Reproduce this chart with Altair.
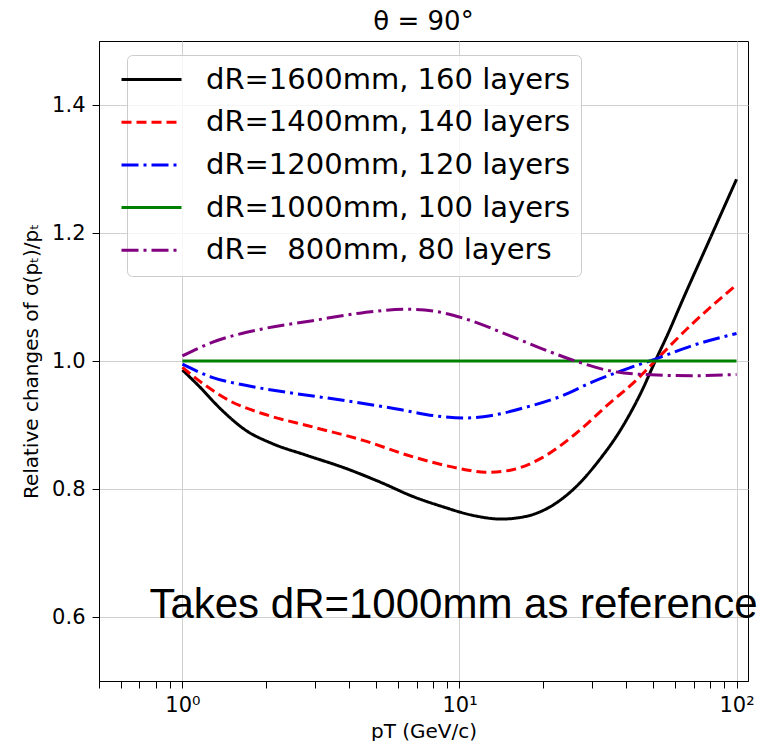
import altair as alt
import pandas as pd

# ---- data ----
labels = [
    "dR=1600mm, 160 layers",
    "dR=1400mm, 140 layers",
    "dR=1200mm, 120 layers",
    "dR=1000mm, 100 layers",
    "dR=\u00a0\u00a0800mm, 80 layers",
]

pt_1600 = [1, 1.14, 1.39, 1.69, 2.11, 2.79, 3.9, 5.16, 6.82, 8.6, 11.4, 14.1, 17.3, 21,
           26.2, 31.8, 38.6, 45.6, 50.9, 56.9, 63.1, 80, 100]
val_1600 = [0.986, 0.962, 0.923, 0.892, 0.871, 0.853, 0.832, 0.811, 0.788, 0.773, 0.758,
            0.753, 0.757, 0.771, 0.8025, 0.844, 0.896, 0.954, 1.0, 1.045, 1.090, 1.190, 1.284]

pt_1400 = [1, 1.21, 1.51, 1.94, 2.95, 4.49, 6.82, 10.3, 12.4, 15.1, 19.9, 26.2, 34.6,
           43.2, 49.5, 69.2, 100]
val_1400 = [0.990, 0.962, 0.936, 0.918, 0.897, 0.876, 0.850, 0.831, 0.826, 0.829, 0.849,
            0.886, 0.933, 0.969, 0.995, 1.058, 1.119]

pt_1200 = [1, 1.28, 1.69, 2.57, 3.9, 5.94, 8.66, 10.5, 13.1, 17.3, 23.6, 30.1, 39.7,
           50.9, 69.2, 100]
val_1200 = [0.995, 0.9745, 0.962, 0.949, 0.938, 0.925, 0.913, 0.911, 0.915, 0.9275,
            0.946, 0.967, 0.987, 1.003, 1.024, 1.043]

pt_1000 = [1, 100]
val_1000 = [1.0, 1.0]

pt_800 = [1, 1.28, 1.94, 2.95, 4.49, 6.45, 8.07, 10.3, 15.1, 19.9, 26.2, 34.6, 45.6,
          69.2, 100]
val_800 = [1.008, 1.029, 1.050, 1.063, 1.0755, 1.081, 1.078, 1.067, 1.040, 1.019, 1.000,
           0.985, 0.979, 0.977, 0.979]

colors = ["#000000", "#ff0000", "#0000ff", "#008000", "#800080"]
dashes = [[1, 0], [10, 5], [17, 5, 3, 5], [1, 0], [17, 5, 3, 5]]

x_ticks = [0.5, 0.6, 0.7, 0.8, 0.9, 1, 2, 3, 4, 5, 6, 7, 8, 9,
           10, 20, 30, 40, 50, 60, 70, 80, 90, 100]
y_ticks = [0.6, 0.8, 1.0, 1.2, 1.4]

note_text = ["Takes dR=1000mm as reference"]
note_x = [0.76]
note_y = [0.598]

# ---- build table ----
rows = []
for lab, xs, ys in zip(labels,
                       [pt_1600, pt_1400, pt_1200, pt_1000, pt_800],
                       [val_1600, val_1400, val_1200, val_1000, val_800]):
    for xv, yv in zip(xs, ys):
        rows.append({"pt": xv, "val": yv, "series": lab})
df = pd.DataFrame(rows)
note_df = pd.DataFrame({"text": note_text, "x": note_x, "y": note_y})

font = "DejaVu Sans"

x_scale = alt.Scale(type="log", domain=[0.5, 110], nice=False)
y_scale = alt.Scale(domain=[0.5, 1.5], nice=False)

major = "indexof([1,10,100], datum.value) >= 0"

x_axis = alt.Axis(
    values=x_ticks,
    labelExpr="datum.value == 1 ? '10⁰' : datum.value == 10 ? '10¹' : datum.value == 100 ? '10²' : ''",
    title="pT (GeV/c)",
    titleFont=font, titleFontSize=20, titleFontWeight="normal", titleColor="black",
    titlePadding=6,
    labelFont=font, labelFontSize=21, labelColor="black", labelPadding=6,
    tickColor="black", tickSize=7, tickWidth=1,
    domainColor="black",
    grid=True, gridColor="#d0d0d0",
    gridOpacity={"condition": {"test": major, "value": 1}, "value": 0},
    labelFlush=False, labelOverlap=False,
)
y_axis = alt.Axis(
    values=y_ticks, format=".1f",
    title="Relative changes of σ(pₜ)/pₜ",
    titleFont=font, titleFontSize=20, titleFontWeight="normal", titleColor="black",
    titlePadding=10,
    labelFont=font, labelFontSize=21, labelColor="black", labelPadding=7,
    tickColor="black", tickSize=7, tickWidth=1,
    domainColor="black",
    grid=True, gridColor="#d0d0d0",
)

legend = alt.Legend(
    title=None, orient="none", legendX=28, legendY=14,
    labelFont=font, labelFontSize=29, labelColor="black", labelOffset=40,
    labelLimit=600,
    symbolType="M-3,0H3", symbolSize=400, symbolStrokeWidth=3,
    symbolFillColor="transparent",
    rowPadding=12.7, padding=10,
    fillColor="rgba(255,255,255,0.8)", strokeColor="#cccccc", cornerRadius=5,
)

base = alt.Chart(df).mark_line(strokeWidth=3, interpolate="monotone").encode(
    x=alt.X("pt:Q", scale=x_scale, axis=x_axis),
    y=alt.Y("val:Q", scale=y_scale, axis=y_axis),
    color=alt.Color("series:N", scale=alt.Scale(domain=labels, range=colors), legend=legend),
    strokeDash=alt.StrokeDash("series:N", scale=alt.Scale(domain=labels, range=dashes), legend=legend),
    order=alt.Order("pt:Q"),
)

line_layers = [base.transform_filter(alt.datum.series == lab) for lab in labels]

note = alt.Chart(note_df).mark_text(
    font="Liberation Sans", fontSize=42, align="left", baseline="alphabetic", color="black"
).encode(
    x=alt.X("x:Q", scale=x_scale),
    y=alt.Y("y:Q", scale=y_scale),
    text="text:N",
)

chart = alt.layer(*line_layers, note).properties(
    width=649, height=640,
    title=alt.TitleParams("θ = 90°", font=font, fontSize=26, fontWeight="normal",
                          color="black", offset=6, anchor="middle"),
    padding={"left": 21, "top": 9, "right": 5, "bottom": 0},
).configure_view(stroke="black", strokeWidth=1)

chart.save("out.html", embed_options={"renderer": "svg", "actions": False})
